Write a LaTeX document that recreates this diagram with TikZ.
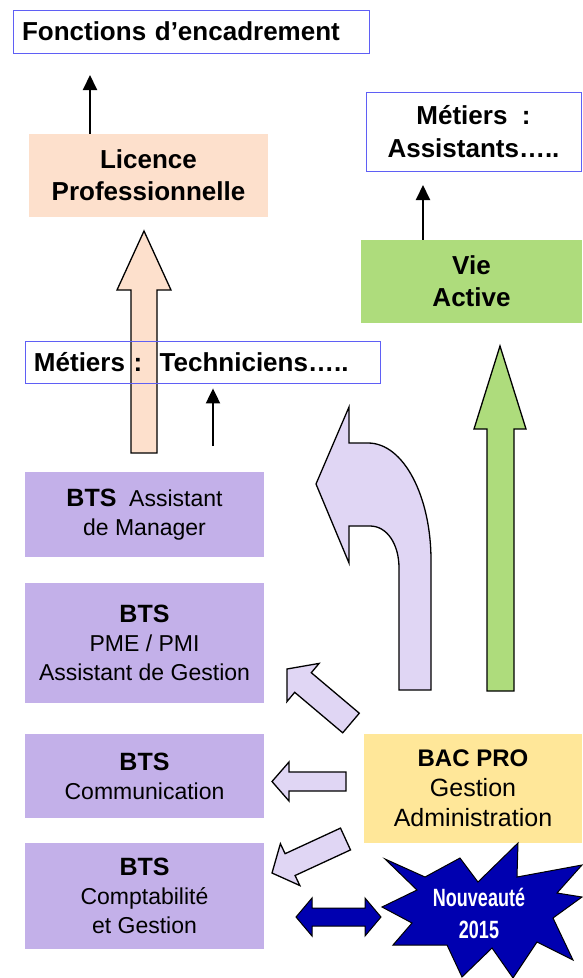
\documentclass[tikz,border=0pt]{standalone}
\usepackage{fontspec}
\setmainfont{Liberation Sans}
\newfontfamily\etroite[FakeStretch=0.72]{Liberation Sans}
\usepackage{xcolor}
\usetikzlibrary{positioning, arrows.meta}

\definecolor{lavande}{RGB}{195,176,233}
\definecolor{lilas}{RGB}{224,214,244}
\definecolor{peche}{RGB}{253,224,204}
\definecolor{vert}{RGB}{174,220,124}
\definecolor{jaune}{RGB}{255,231,153}
\definecolor{bordbleu}{RGB}{95,95,245}
\definecolor{bleunuit}{RGB}{0,0,176}

\newcommand{\btsgras}{{\bfseries\fontsize{25}{29}\selectfont BTS}}

\begin{document}
\begin{tikzpicture}[x=1pt, y=-1pt,
                    cadre/.style={draw=bordbleu, line width=0.8pt, inner xsep=9pt, inner ysep=0pt,
                                  font=\bfseries\fontsize{26}{33}\selectfont},
                    titre/.style={inner sep=0pt, align=center, font=\bfseries\fontsize{26}{32}\selectfont},
                    bts/.style={fill=lavande, minimum width=239pt, inner sep=0pt, align=center,
                                font=\fontsize{23}{29}\selectfont},
                    fleche/.style={-{Triangle[width=14pt,length=15pt]}, line width=2pt},
                    bloc/.style={draw=black, line width=1.3pt, line join=miter, fill=#1}]
                    \useasboundingbox (0,0) rectangle (582,978);

                    % haut de la colonne de gauche
                    \node [cadre, minimum width=356pt, minimum height=43pt, text width=338pt, align=left]
                        (fonctions) at (191,31.5) {Fonctions d’encadrement};
                    \node [titre, fill=peche, minimum width=239pt, minimum height=83pt]
                        (licence) at (148.5,175.5) {Licence\\Professionnelle};
                    \coordinate (versfonctions) at (90,75);
                    \draw [fleche] (licence.north -| versfonctions) -- (versfonctions);

                    % colonne de droite
                    \node [cadre, minimum width=215pt, minimum height=79pt, align=center]
                        (assistants) at (473.5,131.5) {Métiers\ \ :\\Assistants…..};
                    \node [titre, fill=vert, minimum width=221pt, minimum height=83pt]
                        (vie) at (471.5,281.5) {Vie\\Active};
                    \coordinate (versassistants) at (423,185);
                    \draw [fleche] (vie.north -| versassistants) -- (versassistants);

                    % grosses fleches
                    \draw [bloc=peche] (131,453) -- (131,290) -- (117,290) -- (144,231)
                        -- (171,290) -- (157,290) -- (157,453) -- cycle;
                    \draw [bloc=vert] (487,691) -- (487,429) -- (474,429) -- (500,346)
                        -- (526,429) -- (514,429) -- (514,691) -- cycle;
                    \draw [bloc=lilas] (349,407) -- (316,484) -- (349,563) -- (349,526) -- (370,526)
                        .. controls (387,526) and (399,544) .. (399,568) -- (399,690) -- (431,690)
                        -- (431,560) .. controls (431,497) and (404,443) .. (368,443) -- (349,443) -- cycle;

                    \node [cadre, minimum width=355pt, minimum height=42pt, text width=337pt, align=left]
                        (techniciens) at (202.5,362) {Métiers :\ \ Techniciens…..};
                    \coordinate (verstechniciens) at (213,446);
                    \draw [fleche, shorten >=5pt] (verstechniciens) -- (techniciens.south -| verstechniciens);

                    % les BTS
                    \node [bts, minimum height=85pt] (manager) at (144.5,514.5) {\btsgras\ \ Assistant\\de Manager};
                    \node [bts, minimum height=120pt] (pme) at (144.5,643) {\btsgras\\PME / PMI\\Assistant de Gestion};
                    \node [bts, minimum height=84pt] (communication) at (144.5,776) {\btsgras\\Communication};
                    \node [bts, minimum height=106pt] (comptabilite) at (144.5,896) {\btsgras\\Comptabilité\\et Gestion};

                    % le bac pro et ses fleches
                    \node [fill=jaune, minimum width=218pt, minimum height=109pt, inner sep=0pt, align=center,
                        font=\fontsize{25}{30}\selectfont]
                        (bacpro) at (473,788.5) {{\bfseries\fontsize{24}{30}\selectfont BAC PRO}\\Gestion\\Administration};
                    \draw [bloc=lilas] (287,669) -- (319.1,663.4) -- (311.3,672.7) -- (359.3,713.2)
                        -- (342.7,732.8) -- (294.7,692.3) -- (286.9,701.6) -- cycle;
                    \draw [bloc=lilas] (272,781.5) -- (289,762) -- (289,772) -- (346,772)
                        -- (346,791) -- (289,791) -- (289,801) -- cycle;
                    \draw [bloc=lilas] (272,873) -- (280.4,843.7) -- (285.1,853.7) -- (340.5,828.1)
                        -- (350.5,849.9) -- (295.1,875.5) -- (299.8,885.5) -- cycle;

                    % nouveaute
                    \draw [bloc=bleunuit, line width=1pt] (385,859) -- (425,877) -- (460,858) -- (478,882)
                        -- (518,843) -- (517,877) -- (582,865) -- (557,893) -- (582,897) -- (553,918)
                        -- (573,960) -- (537,942) -- (513,978) -- (492,948) -- (462,977) -- (447,945)
                        -- (393,945) -- (412,923) -- (382,907) -- (417,890) -- cycle;
                    \node [text=white, align=center, inner sep=0pt, font=\etroite\bfseries\fontsize{25}{32}\selectfont]
                        (nouveaute) at (479,913) {Nouveauté\\2015};
                    \draw [bloc=bleunuit, line width=1pt] (296,917) -- (312,898) -- (312,908) -- (365,908)
                        -- (365,898) -- (381,917) -- (365,936) -- (365,926) -- (312,926) -- (312,936) -- cycle;
                \end{tikzpicture}
\end{document}
